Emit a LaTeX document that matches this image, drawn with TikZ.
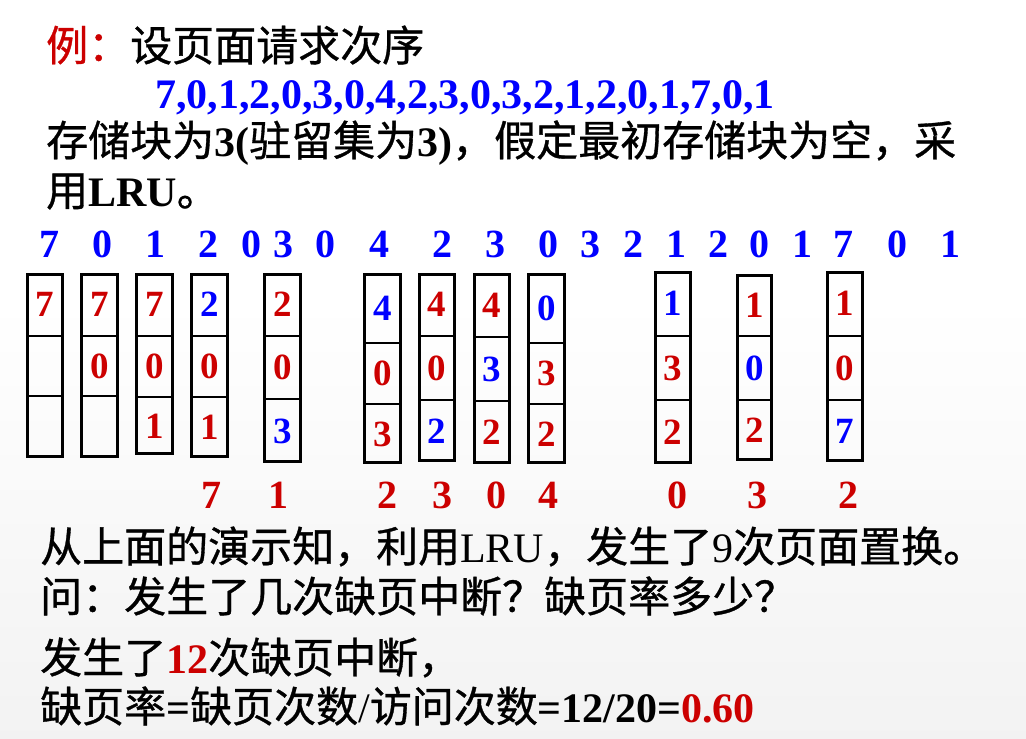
\documentclass[tikz,border=0pt]{standalone}
\usepackage{fontspec}
\setmainfont{Noto Sans CJK SC}[FakeBold=0.8]
\newfontfamily\tnr{Liberation Serif}
\newcommand\lat[1]{{\tnr\bfseries #1}}
\definecolor{exred}{RGB}{204,0,0}
\definecolor{exblue}{RGB}{0,0,255}
\newcommand\rdig[1]{\textcolor{exred}{#1}}
\newcommand\bdig[1]{\textcolor{exblue}{#1}}

\begin{document}
\begin{tikzpicture}[x=1pt,y=-1pt,
  txt/.style={anchor=base west, inner sep=0pt, font=\fontsize{42}{50}\selectfont},
  req/.style={anchor=base, inner sep=0pt, text=exblue, font=\fontsize{40}{48}\selectfont\tnr\bfseries},
  evict/.style={req, text=exred},
  cellnum/.style={inner sep=0pt, font=\fontsize{37}{44}\selectfont\tnr\bfseries},
  blockbox/.style={line width=3pt},
  divider/.style={line width=1.2pt}]

\useasboundingbox (0,0) rectangle (1026,739);
\fill[white] (0,0) rectangle (1026,300);
\shade[top color=white, bottom color=black!5] (0,300) rectangle (1026,739);

% question
\node[txt] (l1) at (46,61) {\textcolor{exred}{例：}设页面请求次序};
\node[txt, text=exblue] (seq) at (155,108)
  {\lat{7,0,1,2,0,3,0,4,2,3,0,3,2,1,2,0,1,7,0,1}};
\node[txt] (l3) at (46,156) {存储块为\lat{3(}驻留集为\lat{3)}，假定最初存储块为空，采};
\node[txt] (l4) at (46,206) {用\lat{LRU}。};

% page requests
\foreach \x/\d [count=\i] in {49/7,102/0,155/1,208/2,251/0,283/3,325/0,379/4,442/2,495/3,
  548/0,590/3,633/2,676/1,718/2,759/0,802/1,843/7,897/0,950/1}
  \node[req] (r\i) at (\x,257) {\d};

% frames: left/right/top/bottom/cut1/cut2/pages
\foreach \xl/\xr/\yt/\yb/\ca/\cb/\da/\db/\dc [count=\i] in {
  26/64/273/458/336/396/\rdig7/{}/{},
  80/119/273/458/336/396/\rdig7/\rdig0/{},
  135/174/273/455/336/397/\rdig7/\rdig0/\rdig1,
  190/229/273/458/336/397/\bdig2/\rdig0/\rdig1,
  263/302/273/463/336/399/\rdig2/\rdig0/\bdig3,
  363/402/273/464/343/404/\bdig4/\rdig0/\rdig3,
  418/456/273/462/336/400/\rdig4/\rdig0/\bdig2,
  473/511/273/464/337/401/\rdig4/\bdig3/\rdig2,
  527/566/273/464/343/404/\bdig0/\rdig3/\rdig2,
  654/692/271/464/336/400/\bdig1/\rdig3/\rdig2,
  736/773/274/461/336/400/\rdig1/\bdig0/\rdig2,
  826/864/271/462/336/400/\rdig1/\rdig0/\bdig7}
{
  \draw[blockbox] (\xl+1.5,\yt+1.5) rectangle (\xr-1.5,\yb-1.5);
  \draw[divider] (\xl+1.5,\ca) -- (\xr-1.5,\ca);
  \draw[divider] (\xl+1.5,\cb) -- (\xr-1.5,\cb);
  \node[cellnum] (m\i a) at ({(\xl+\xr)/2},{(\yt+\ca)/2}) {\da};
  \node[cellnum] (m\i b) at ({(\xl+\xr)/2},{(\ca+\cb)/2}) {\db};
  \node[cellnum] (m\i c) at ({(\xl+\xr)/2},{(\cb+\yb)/2}) {\dc};
}

% replaced pages
\foreach \x/\d [count=\i] in {211/7,278/1,387/2,442/3,496/0,548/4,677/0,757/3,848/2}
  \node[evict] (e\i) at (\x,508) {\d};

% answer
\node[txt] (a1) at (40,562) {从上面的演示知，利用{\tnr LRU}，发生了{\tnr 9}次页面置换。};
\node[txt] (a2) at (40,612) {问：发生了几次缺页中断？缺页率多少？};
\node[txt] (a3) at (40,673) {发生了\textcolor{exred}{\lat{12}}次缺页中断，};
\node[txt] (a4) at (40,722) {缺页率\lat{=}缺页次数{\tnr/}访问次数\lat{=12/20=}\textcolor{exred}{\lat{0.60}}};

\end{tikzpicture}
\end{document}
